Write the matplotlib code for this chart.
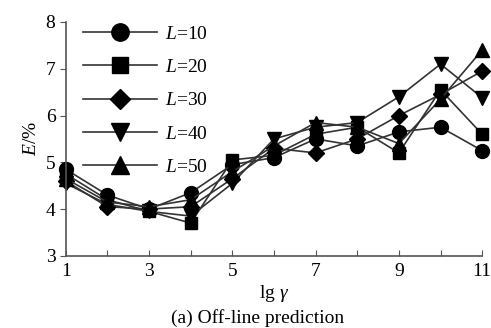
import matplotlib
matplotlib.use("Agg")
import matplotlib.pyplot as plt

plt.rcParams['font.family'] = ['Liberation Serif', 'DejaVu Serif']
plt.rcParams['mathtext.fontset'] = 'custom'
plt.rcParams['mathtext.it'] = 'Liberation Serif:italic'
plt.rcParams['mathtext.rm'] = 'Liberation Serif'

lg_gamma = [1, 2, 3, 4, 5, 6, 7, 8, 9, 10, 11]
e_L10 = [4.85, 4.30, 4.00, 4.35, 4.95, 5.10, 5.50, 5.35, 5.65, 5.75, 5.25]
e_L20 = [4.75, 4.20, 3.95, 3.70, 5.05, 5.15, 5.60, 5.75, 5.20, 6.55, 5.60]
e_L30 = [4.60, 4.05, 4.00, 4.05, 4.65, 5.30, 5.20, 5.50, 6.00, 6.45, 6.95]
e_L40 = [4.55, 4.10, 3.95, 3.85, 4.55, 5.50, 5.75, 5.85, 6.40, 7.10, 6.38]
e_L50 = [4.65, 4.15, 4.05, 4.20, 4.80, 5.35, 5.85, 5.75, 5.40, 6.35, 7.40]

series = [
    ('10', e_L10, 'o'),
    ('20', e_L20, 's'),
    ('30', e_L30, 'D'),
    ('40', e_L40, 'v'),
    ('50', e_L50, '^'),
]
sizes = {'o': 10, 's': 9, 'D': 8, 'v': 10, '^': 10}

fig = plt.figure(figsize=(4.91, 3.28), dpi=100)
ax = fig.add_axes([0.134, 0.22, 0.848, 0.713])

for lab, vals, mk in series:
    ax.plot(lg_gamma, vals, color='#333333', lw=1.2, marker=mk,
            markersize=sizes[mk], markerfacecolor='black', markeredgecolor='black',
            clip_on=False, label='$L$=' + lab)

ax.set_xlim(1, 11)
ax.set_ylim(3, 8)
ax.set_xticks(range(1, 12))
ax.set_xticklabels([str(i) if i % 2 == 1 else '' for i in range(1, 12)])
ax.set_yticks(range(3, 9))
ax.tick_params(axis='x', direction='in', length=4, labelsize=14, pad=5, color='#555555')
ax.tick_params(axis='y', direction='out', length=4, labelsize=14, color='#555555')
for s in ['top', 'right']:
    ax.spines[s].set_visible(False)
for s in ['left', 'bottom']:
    ax.spines[s].set_color('#555555')
    ax.spines[s].set_linewidth(1.2)

ax.set_xlabel(r'lg $\gamma$', fontsize=14, labelpad=2)
ax.set_ylabel(r'$E$/%', fontsize=14, labelpad=4)
fig.text(0.525, 0.03, '(a) Off-line prediction', ha='center', va='center', fontsize=14)

ax.legend(loc='upper left', bbox_to_anchor=(0.0, 1.06), frameon=False, fontsize=14,
          handlelength=3.8, labelspacing=0.8, handletextpad=0.4, markerscale=1.25)

fig.savefig('out.png', dpi=100)
